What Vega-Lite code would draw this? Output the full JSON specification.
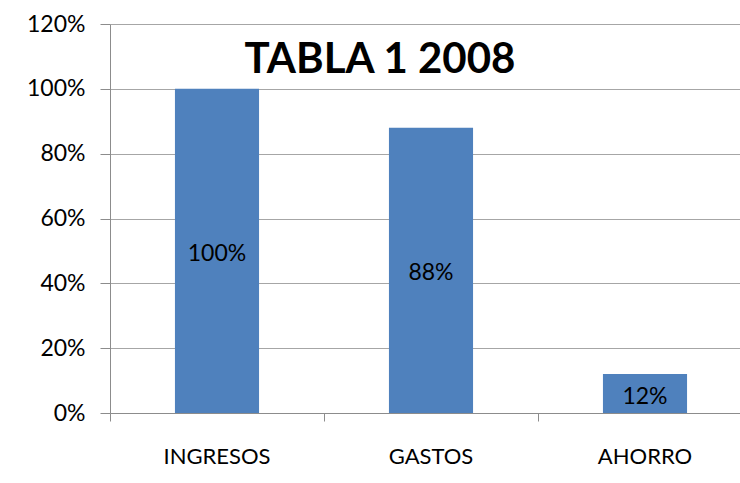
{
  "$schema": "https://vega.github.io/schema/vega-lite/v6.json",
  "autosize": "none",
  "width": 642,
  "height": 389,
  "padding": {"left": 110, "top": 24, "right": 0, "bottom": 70},
  "background": "white",
  "title": {
    "text": "TABLA 1 2008",
    "font": "Lato",
    "fontSize": 42,
    "fontWeight": "bold",
    "color": "#000000",
    "anchor": "middle",
    "offset": -69,
    "dx": -51
  },
  "data": {
    "values": [
      {"categoria": "INGRESOS", "valor": 1.0},
      {"categoria": "GASTOS", "valor": 0.88},
      {"categoria": "AHORRO", "valor": 0.12}
    ]
  },
  "config": {
    "view": {"stroke": null},
    "font": "Lato"
  },
  "encoding": {
    "x": {
      "field": "categoria",
      "type": "nominal",
      "sort": null,
      "scale": {"paddingInner": 0, "paddingOuter": 0},
      "axis": {
        "title": null,
        "labelAngle": 0,
        "labelFont": "Lato",
        "labelFontSize": 22,
        "labelColor": "#000000",
        "bandPosition": 0,
        "tickSize": 8,
        "tickColor": "#8c8c8c",
        "domainColor": "#8c8c8c",
        "labelPadding": 25
      }
    }
  },
  "layer": [
    {
      "mark": {"type": "bar", "color": "#4f81bd", "width": {"band": 0.393}},
      "encoding": {
        "y": {
          "field": "valor",
          "type": "quantitative",
          "scale": {"domain": [0, 1.2], "nice": false},
          "axis": {
            "title": null,
            "format": ".0%",
            "values": [0, 0.2, 0.4, 0.6, 0.8, 1.0, 1.2],
            "grid": true,
            "gridColor": "#a6a6a6",
            "gridWidth": 1,
            "tickSize": 10,
            "tickColor": "#8c8c8c",
            "domainColor": "#8c8c8c",
            "labelFont": "Lato",
            "labelFontSize": 23,
            "labelColor": "#000000",
            "labelPadding": 15
          }
        }
      }
    },
    {
      "transform": [{"calculate": "datum.valor / 2", "as": "mitad"}],
      "mark": {"type": "text", "font": "Lato", "fontSize": 23, "color": "#000000", "baseline": "middle", "dy": 3},
      "encoding": {
        "y": {"field": "mitad", "type": "quantitative"},
        "text": {"field": "valor", "type": "quantitative", "format": ".0%"}
      }
    }
  ]
}
